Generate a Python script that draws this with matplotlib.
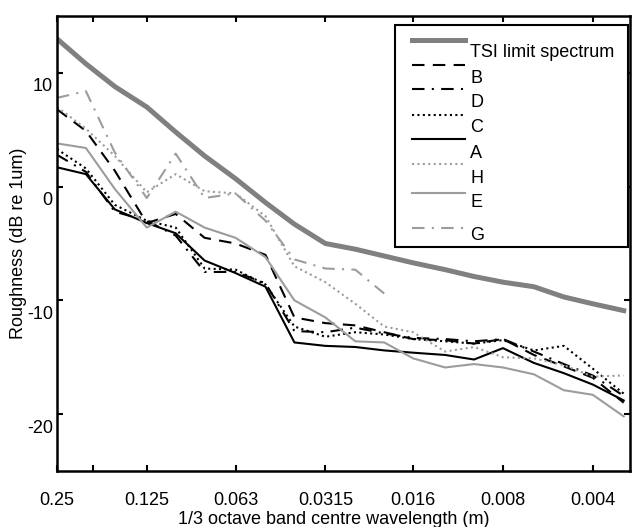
import matplotlib
matplotlib.use("Agg")
import matplotlib.pyplot as plt
import matplotlib.transforms as mtransforms
from matplotlib.patches import Rectangle

plt.rcParams['font.family'] = ['Liberation Sans', 'DejaVu Sans']
plt.rcParams['font.size'] = 13

# 1/3 octave band centre wavelengths (m)
wavelength = [0.25, 0.2, 0.16, 0.125, 0.1, 0.08, 0.063, 0.05, 0.04, 0.0315,
              0.025, 0.02, 0.016, 0.0125, 0.01, 0.008, 0.0063, 0.005, 0.004, 0.00315]

# roughness levels, dB re 1um
tsi = [13.0, 10.8, 8.8, 7.0, 4.8, 2.7, 0.7, -1.4, -3.3, -5.0,
       -5.5, -6.1, -6.7, -7.3, -7.9, -8.4, -8.8, -9.7, -10.3, -10.9]
b = [6.8, 4.9, 1.4, -3.2, -2.4, -4.5, -5.0, -6.0, -11.5, -12.0,
     -12.2, -12.8, -13.4, -13.5, -13.8, -13.4, -14.8, -15.8, -16.8, -19.0]
d = [2.8, 1.3, -2.2, -3.0, -4.3, -7.5, -7.5, -8.5, -12.7, -12.8,
     -12.4, -12.9, -13.3, -13.4, -13.6, -13.4, -14.5, -15.6, -16.6, -18.4]
c = [3.3, 1.6, -1.6, -3.0, -3.6, -7.2, -7.3, -8.6, -12.3, -13.2,
     -12.8, -13.0, -13.4, -13.6, -13.8, -13.5, -14.4, -14.0, -16.0, -18.2]
a = [1.7, 1.1, -2.0, -3.2, -4.1, -6.5, -7.6, -8.8, -13.7, -14.0,
     -14.1, -14.4, -14.6, -14.8, -15.2, -14.2, -15.5, -16.4, -17.4, -18.8]
h = [7.0, 5.1, 2.7, -0.5, 1.1, -0.4, -0.6, -2.6, -7.0, -8.4,
     -10.3, -12.3, -12.8, -14.5, -14.1, -15.0, -15.1, -15.7, -16.7, -16.6]
e = [3.8, 3.4, -0.2, -3.6, -2.2, -3.6, -4.5, -6.2, -10.0, -11.5,
     -13.6, -13.7, -15.1, -15.9, -15.6, -15.9, -16.5, -17.9, -18.3, -20.2]
g = [7.8, 8.4, 3.0, -1.0, 2.9, -1.0, -0.6, -3.0, -6.4, -7.2, -7.3, -9.4]

xtick_vals = [0.25, 0.19, 0.125, 0.063, 0.0315, 0.016, 0.008, 0.004]
xtick_labels = ['0.25', '', '0.125', '0.063', '0.0315', '0.016', '0.008', '0.004']
ytick_vals = [-20, -10, 0, 10]

dark_grey = '#808080'
grey = '#9c9c9c'
dash = (6, 4)
dashdot = (6, 3.5, 1, 3.5)
dot = (1, 1.6)

series = [
    ("TSI limit spectrum", tsi, dark_grey, 3.6, None),
    ("B", b, 'black', 1.5, dash),
    ("D", d, 'black', 1.5, dashdot),
    ("C", c, 'black', 1.5, dot),
    ("A", a, 'black', 1.5, None),
    ("H", h, grey, 1.5, dot),
    ("E", e, grey, 1.5, None),
    ("G", g, grey, 1.5, dashdot),
]

fig = plt.figure(figsize=(6.33, 5.27), dpi=100)
ax = fig.add_axes([0.090, 0.1063, 0.9053, 0.8633])

for name, vals, col, lw, ds in series:
    line, = ax.plot(wavelength[:len(vals)], vals, color=col, lw=lw)
    if ds is not None:
        line.set_dashes(ds)

ax.set_xscale('log')
ax.set_xlim(0.25, 0.003)
ax.set_ylim(-25, 15)
ax.xaxis.set_minor_locator(matplotlib.ticker.NullLocator())
ax.set_xticks(xtick_vals)
ax.set_xticklabels(xtick_labels)
ax.set_yticks(ytick_vals)
ax.set_yticklabels([str(v) for v in ytick_vals])
ax.tick_params(direction='in', length=4, width=1.5, top=True, right=True)
ax.tick_params(axis='x', pad=15)
ax.tick_params(axis='y', pad=3)
for sp in ax.spines.values():
    sp.set_linewidth(1.8)

# labels sit a bit low, like the original export
shift = mtransforms.ScaledTranslation(0, -0.12, fig.dpi_scale_trans)
for lbl in ax.get_yticklabels():
    lbl.set_transform(lbl.get_transform() + shift)

fig.text(334 / 633, 1 - 519 / 527, '1/3 octave band centre wavelength (m)',
         ha='center', va='center')
fig.text(19 / 633, 1 - 243 / 527, 'Roughness (dB re 1um)', rotation=90,
         ha='center', va='center')

# legend drawn by hand (text offset below the handles)
ax.add_patch(Rectangle((0.590, 0.492), 0.4065, 0.488, transform=ax.transAxes,
                       facecolor='white', edgecolor='black', lw=1.5, zorder=5))
handle_px = [40, 65, 89, 115, 139, 164, 193, 228]
text_px = [52, 78, 102, 127, 153, 178, 202, 235]
for (name, vals, col, lw, ds), hy, ty in zip(series, handle_px, text_px):
    fy = 1 - (hy - 16) / 455
    ln, = ax.plot([0.619, 0.712], [fy, fy], color=col, lw=lw,
                  transform=ax.transAxes, zorder=6)
    if ds is not None:
        ln.set_dashes(ds)
    ax.text(0.721, 1 - (ty - 16) / 455, name, transform=ax.transAxes,
            ha='left', va='center', zorder=6)

fig.savefig('out.png', dpi=100)
